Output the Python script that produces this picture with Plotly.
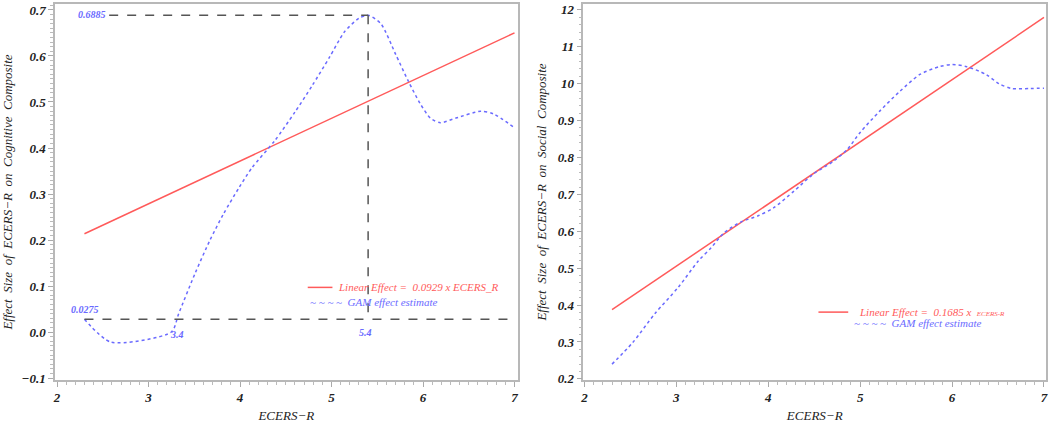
import plotly.graph_objects as go
from plotly.subplots import make_subplots

# linear effect endpoints (ECERS-R score, effect size)
lin_x = [2.3, 7.0]
cog_lin = [0.2137, 0.6503]
soc_lin = [0.3876, 1.1795]

# GAM effect estimate, cognitive composite
cog_gam_x = [2.3, 2.59, 3.25, 3.33, 3.51, 3.67, 3.82, 3.99, 4.13, 4.38, 4.60, 4.79,
             4.98, 5.14, 5.30, 5.40, 5.54, 5.70, 5.84, 5.97, 6.08, 6.19, 6.36, 6.63,
             6.77, 7.0]
cog_gam_y = [0.0275, -0.022, 0.0, 0.04, 0.128, 0.199, 0.257, 0.314, 0.357, 0.416,
             0.478, 0.536, 0.598, 0.652, 0.682, 0.6885, 0.67, 0.604, 0.545, 0.496,
             0.465, 0.455, 0.465, 0.48, 0.474, 0.444]

# GAM effect estimate, social composite
soc_gam_x = [2.3, 2.52, 2.77, 3.02, 3.24, 3.38, 3.52, 3.70, 3.89, 4.06, 4.28, 4.49,
             4.71, 4.86, 5.0, 5.21, 5.43, 5.65, 5.86, 6.0, 6.16, 6.37, 6.51, 6.65,
             6.85, 7.0]
soc_gam_y = [0.24, 0.297, 0.378, 0.448, 0.52, 0.556, 0.596, 0.625, 0.642, 0.664,
             0.709, 0.755, 0.79, 0.822, 0.868, 0.925, 0.979, 1.025, 1.046, 1.052,
             1.046, 1.025, 1.0, 0.987, 0.987, 0.988]

# reference points marked on the cognitive panel
peak_x, peak_y = 5.4, 0.6885
cross_x, base_y = 3.4, 0.0275

soc_tickvals = [0.2, 0.3, 0.4, 0.5, 0.6, 0.7, 0.8, 0.9, 1.0, 1.1, 1.2]
soc_ticktext = ["0.2", "0.3", "0.4", "0.5", "0.6", "0.7", "0.8", "0.9", "10", "11", "12"]

RED = "#ff5a5a"
BLUE = "#6a6aff"
SERIF = "Liberation Serif, Times New Roman, serif"

fig = make_subplots(rows=1, cols=2, horizontal_spacing=0.0665)

fig.add_trace(go.Scatter(x=lin_x, y=cog_lin, mode="lines",
                         line=dict(color=RED, width=1.5)), row=1, col=1)
fig.add_trace(go.Scatter(x=cog_gam_x, y=cog_gam_y, mode="lines",
                         line=dict(color=BLUE, width=1.5, dash="dot",
                                   shape="spline", smoothing=0.7)), row=1, col=1)
fig.add_trace(go.Scatter(x=lin_x, y=soc_lin, mode="lines",
                         line=dict(color=RED, width=1.5)), row=1, col=2)
fig.add_trace(go.Scatter(x=soc_gam_x, y=soc_gam_y, mode="lines",
                         line=dict(color=BLUE, width=1.5, dash="dot",
                                   shape="spline", smoothing=0.8)), row=1, col=2)

# dashed reference lines
ref = dict(color="#555555", width=1.5, dash="dash")
fig.add_shape(type="line", x0=2.57, x1=peak_x, y0=peak_y, y1=peak_y,
              line=ref, xref="x", yref="y")
fig.add_shape(type="line", x0=peak_x, x1=peak_x, y0=peak_y, y1=base_y,
              line=ref, xref="x", yref="y")
fig.add_shape(type="line", x0=2.3, x1=7.0, y0=base_y, y1=base_y,
              line=ref, xref="x", yref="y")

lab = dict(family=SERIF, size=10, color=BLUE, style="italic", weight="bold")
for tx, ax, ay in [("0.6885", 2.38, 0.69), ("0.0275", 2.31, 0.05),
                   ("3.4", 3.31, -0.006), ("5.4", 5.37, -0.002)]:
    fig.add_annotation(x=ax, y=ay, text=tx, showarrow=False, font=lab,
                       xref="x", yref="y")

# legends drawn as in the original output
fig.add_shape(type="line", x0=4.74, x1=5.01, y0=0.097, y1=0.097,
              line=dict(color=RED, width=1.5), xref="x", yref="y")
fig.add_annotation(x=5.05, y=0.097, xanchor="left", showarrow=False,
                   text="Linear Effect =  0.0929 x ECERS_R",
                   font=dict(family=SERIF, size=11, color=RED, style="italic"),
                   xref="x", yref="y")
fig.add_annotation(x=4.74, y=0.065, xanchor="left", showarrow=False,
                   text="~ ~ ~ ~  GAM effect estimate",
                   font=dict(family=SERIF, size=11, color=BLUE, style="italic"),
                   xref="x", yref="y")

fig.add_shape(type="line", x0=4.546, x1=4.87, y0=0.381, y1=0.381,
              line=dict(color=RED, width=1.5), xref="x2", yref="y2")
fig.add_annotation(x=4.967, y=0.381, xanchor="left", showarrow=False,
                   text="Linear Effect =  0.1685 x  <span style='font-size:7px'>ECERS-R</span>",
                   font=dict(family=SERIF, size=11, color=RED, style="italic"),
                   xref="x2", yref="y2")
fig.add_annotation(x=4.91, y=0.351, xanchor="left", showarrow=False,
                   text="~ ~ ~ ~  GAM effect estimate",
                   font=dict(family=SERIF, size=11, color=BLUE, style="italic"),
                   xref="x2", yref="y2")

tickfont = dict(family=SERIF, size=13, color="#222222", style="italic", weight=700)
titlefont = dict(family=SERIF, size=13, color="#222222", style="italic")
axis_common = dict(showline=True, linecolor="#b8b8b8", linewidth=1.5, mirror=True,
                   showgrid=False, zeroline=False, ticks="outside", ticklen=5,
                   tickcolor="#aaaaaa", tickfont=tickfont)

fig.update_xaxes(**axis_common, tickvals=[2, 3, 4, 5, 6, 7], range=[1.978, 7.033],
                 minor=dict(ticks="outside", ticklen=3, dtick=0.1, tickcolor="#bbbbbb"),
                 title=dict(text="ECERS−R", font=titlefont, standoff=7),
                 row=1, col=1)
fig.update_xaxes(**axis_common, tickvals=[2, 3, 4, 5, 6, 7], range=[1.989, 7.022],
                 minor=dict(ticks="outside", ticklen=3, dtick=0.1, tickcolor="#bbbbbb"),
                 title=dict(text="ECERS−R", font=titlefont, standoff=7),
                 row=1, col=2)
fig.update_yaxes(**axis_common, dtick=0.1, tickformat=".1f", range=[-0.1043, 0.713],
                 minor=dict(ticks="outside", ticklen=3, dtick=0.01, tickcolor="#bbbbbb"),
                 title=dict(text="Effect  Size  of  ECERS−R  on  Cognitive  Composite",
                            font=titlefont, standoff=8),
                 row=1, col=1)
fig.update_yaxes(**axis_common, tickvals=soc_tickvals, ticktext=soc_ticktext,
                 range=[0.197, 1.216],
                 minor=dict(ticks="outside", ticklen=3, dtick=0.02, tickcolor="#bbbbbb"),
                 title=dict(text="Effect  Size  of  ECERS−R  on  Social  Composite",
                            font=titlefont, standoff=8),
                 row=1, col=2)

fig.update_layout(width=1050, height=429, showlegend=False,
                  plot_bgcolor="white", paper_bgcolor="white",
                  margin=dict(l=55, r=3, t=2, b=49))

# drop the browser's default page margin so the figure fills the window
fig.write_html("out.html", config={"displayModeBar": False},
               post_script="document.body.style.margin='0';")
